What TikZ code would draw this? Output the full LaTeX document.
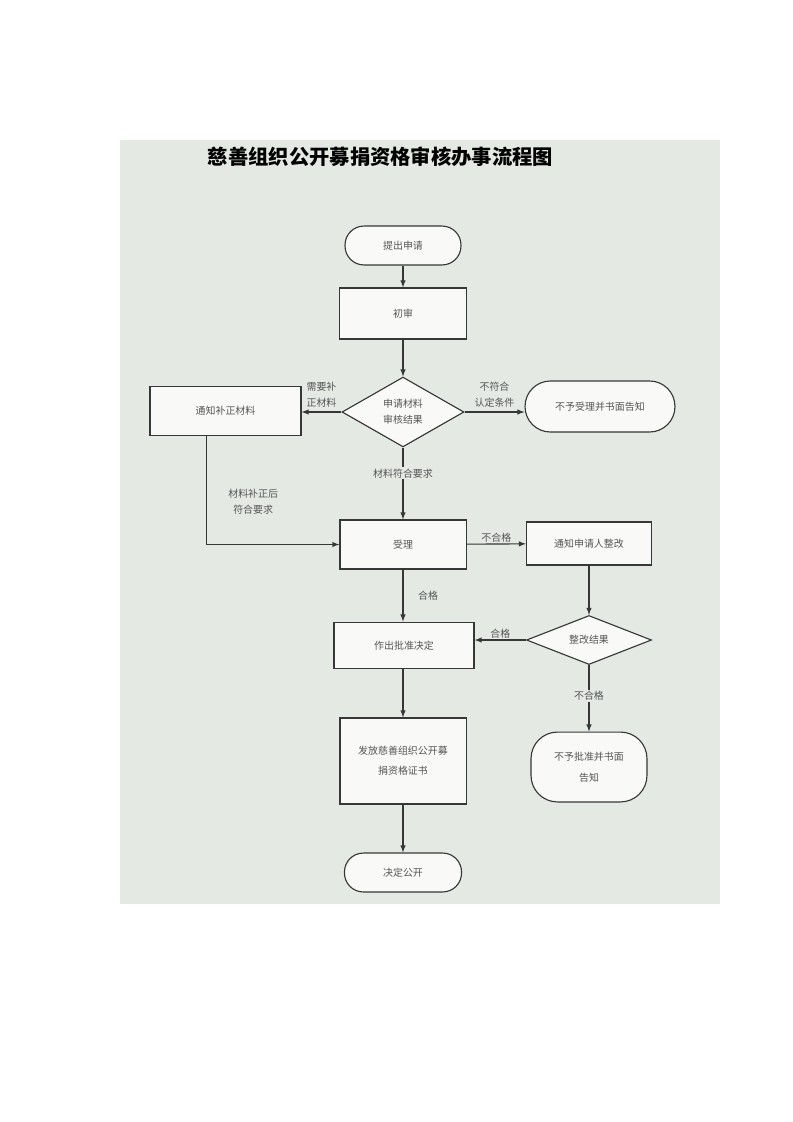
\documentclass[tikz,border=0pt]{standalone}
\usepackage{fontspec}
\setmainfont{Noto Sans CJK SC}
\usepackage{tikz}
\usetikzlibrary{calc,shapes.geometric}

\definecolor{bgcol}{RGB}{228,233,228}
\definecolor{boxcol}{RGB}{249,250,248}
\definecolor{linecol}{RGB}{55,55,55}
\definecolor{txtcol}{RGB}{85,85,85}

\begin{document}
\begin{tikzpicture}[x=0.26482mm, y=-0.26482mm, >=latex, line width=0.85pt,
    box/.style={draw=linecol, fill=boxcol, text=txtcol, align=center, inner sep=0pt,
        font=\fontsize{7.5pt}{12pt}\selectfont},
    term/.style={box, rounded corners=5mm},
    decide/.style={box, diamond},
    lbl/.style={text=txtcol, align=center, inner sep=1pt,
        font=\fontsize{7.5pt}{12pt}\selectfont},
    flow/.style={draw=linecol, ->}]

        % --- 1. Page and Background ---
        \useasboundingbox (0,0) rectangle (793,1122);
        \fill[bgcol] (120,140) rectangle (720,904);

        \node[font=\fontsize{15.3pt}{18pt}\selectfont\bfseries] (title) at (380.5,157) {慈善组织公开募捐资格审核办事流程图};

        % --- 2. Main Column ---
        \node[term, minimum width=30.7mm, minimum height=10.3mm] (tichu) at (403,245.5) {提出申请};
        \node[box, minimum width=33.6mm, minimum height=13.5mm] (chushen) at (403,313.5) {初审};
        \node[decide, minimum width=32.3mm, minimum height=18.5mm] (shenhe) at (403,412) {申请材料\\审核结果};
        \node[box, minimum width=33.4mm, minimum height=13mm] (shouli) at (403,544.5) {受理};
        \node[box, minimum width=37.1mm, minimum height=12.4mm] (pizhun) at (404,645.5) {作出批准决定};
        \node[box, minimum width=33.4mm, minimum height=22.8mm,
            font=\fontsize{7.5pt}{15pt}\selectfont] (fafang) at (403,761) {发放慈善组织公开募\\捐资格证书};
        \node[term, minimum width=31mm, minimum height=10.3mm] (gongkai) at (403,872.5) {决定公开};

        % --- 3. Side Boxes ---
        \node[box, minimum width=40mm, minimum height=13.2mm] (buzheng) at (225.5,411) {通知补正材料};
        \node[term, minimum width=39.7mm, minimum height=13.5mm, rounded corners=6.7mm] (buyu) at (600,406.5) {不予受理并书面告知};
        \node[box, minimum width=33.1mm, minimum height=11.4mm] (tongzhi) at (589,543.5) {通知申请人整改};
        \node[decide, minimum width=33.1mm, minimum height=12.4mm] (zhenggai) at (589,640) {整改结果};
        \node[term, minimum width=30.7mm, minimum height=18.5mm, rounded corners=7mm,
            font=\fontsize{7.5pt}{16pt}\selectfont] (bupizhun) at (589,767) {不予批准并书面\\告知};

        % --- 4. Connectors ---
        \draw[flow] (tichu) -- (chushen);
        \draw[flow] (chushen) -- (shenhe);
        \draw[flow] (shenhe.west) -- node[lbl, above=2pt] {需要补\\正材料} (shenhe.west -| buzheng.east);
        \draw[flow] (shenhe.east) -- node[lbl, above=2pt] {不符合\\认定条件} (shenhe.east -| buyu.west);
        \draw[flow] (shenhe) -- node[lbl, pos=0.36, fill=bgcol] {材料符合要求} (shouli);

        \coordinate (bzout) at ($(buzheng.south)+(-19,0)$);
        \draw[flow] (bzout) |- node[lbl, pos=0.3, anchor=west, xshift=15pt] {材料补正后\\符合要求} (shouli.west);

        \draw[flow] (shouli) -- node[lbl, above, inner sep=0.5pt] {不合格} (tongzhi);
        \draw[flow] (tongzhi) -- (zhenggai);
        \draw[flow] (shouli) -- node[lbl, right=3.5mm] {合格} (shouli |- pizhun.north);
        \draw[flow] (zhenggai.west) -- node[lbl, above, inner sep=0.5pt] {合格} (zhenggai.west -| pizhun.east);
        \draw[flow] (zhenggai) -- node[lbl, pos=0.46, fill=bgcol] {不合格} (bupizhun);
        \draw[flow] (pizhun.south -| fafang) -- (fafang);
        \draw[flow] (fafang) -- (gongkai);
    \end{tikzpicture}
\end{document}
